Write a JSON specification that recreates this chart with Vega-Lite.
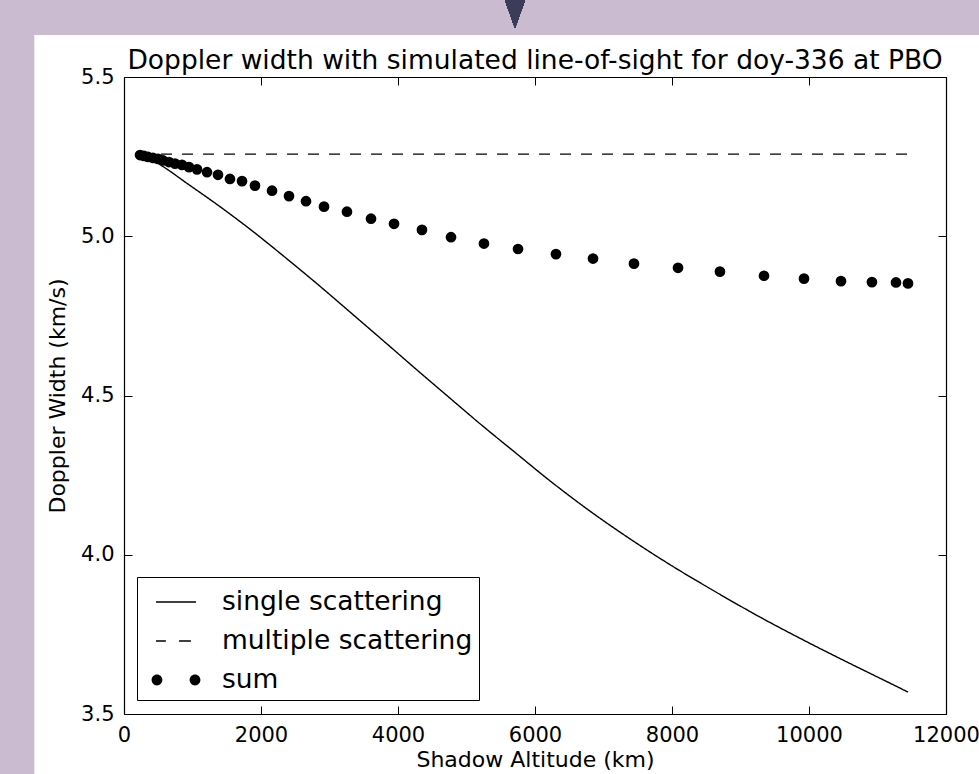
{
  "$schema": "https://vega.github.io/schema/vega-lite/v6.json",
  "width": 822,
  "height": 637,
  "autosize": {"type": "none"},
  "padding": {"left": 124, "top": 77, "right": 33, "bottom": 60},
  "background": "#cabbd1",
  "title": {
    "text": "Doppler width with simulated line-of-sight for doy-336 at PBO",
    "font": "DejaVu Sans",
    "fontSize": 26.5,
    "fontWeight": "normal",
    "color": "black",
    "anchor": "middle",
    "baseline": "alphabetic",
    "offset": -95,
    "zindex": 2
  },
  "config": {
    "view": {"stroke": null},
    "font": "DejaVu Sans",
    "axis": {
      "grid": false,
      "domainColor": "black",
      "domainWidth": 1.2,
      "tickColor": "black",
      "tickSize": -8,
      "tickWidth": 1,
      "labelFont": "DejaVu Sans",
      "labelFontSize": 21,
      "labelColor": "black",
      "labelPadding": 18,
      "titleFont": "DejaVu Sans",
      "titleFontSize": 22,
      "titleFontWeight": "normal",
      "titleColor": "black"
    }
  },
  "datasets": {
    "doppler": [
      {"series": "single scattering", "altitude": 234, "width": 5.255},
      {"series": "single scattering", "altitude": 380, "width": 5.2435},
      {"series": "single scattering", "altitude": 569, "width": 5.219},
      {"series": "single scattering", "altitude": 920, "width": 5.166},
      {"series": "single scattering", "altitude": 1401, "width": 5.093},
      {"series": "single scattering", "altitude": 1883, "width": 5.015},
      {"series": "single scattering", "altitude": 2379, "width": 4.929},
      {"series": "single scattering", "altitude": 2861, "width": 4.843},
      {"series": "single scattering", "altitude": 3343, "width": 4.754},
      {"series": "single scattering", "altitude": 3839, "width": 4.662},
      {"series": "single scattering", "altitude": 4321, "width": 4.572},
      {"series": "single scattering", "altitude": 4686, "width": 4.505},
      {"series": "single scattering", "altitude": 5255, "width": 4.401},
      {"series": "single scattering", "altitude": 5722, "width": 4.319},
      {"series": "single scattering", "altitude": 6190, "width": 4.237},
      {"series": "single scattering", "altitude": 6803, "width": 4.137},
      {"series": "single scattering", "altitude": 7365, "width": 4.053},
      {"series": "single scattering", "altitude": 7985, "width": 3.967},
      {"series": "single scattering", "altitude": 8657, "width": 3.881},
      {"series": "single scattering", "altitude": 9270, "width": 3.806},
      {"series": "single scattering", "altitude": 9839, "width": 3.741},
      {"series": "single scattering", "altitude": 10453, "width": 3.674},
      {"series": "single scattering", "altitude": 10963, "width": 3.620},
      {"series": "single scattering", "altitude": 11445, "width": 3.569},
      {"series": "multiple scattering", "altitude": 234, "width": 5.258},
      {"series": "multiple scattering", "altitude": 11445, "width": 5.258},
      {"series": "sum", "altitude": 234, "width": 5.255},
      {"series": "sum", "altitude": 292, "width": 5.252},
      {"series": "sum", "altitude": 350, "width": 5.249},
      {"series": "sum", "altitude": 423, "width": 5.246},
      {"series": "sum", "altitude": 496, "width": 5.243},
      {"series": "sum", "altitude": 569, "width": 5.238},
      {"series": "sum", "altitude": 657, "width": 5.233},
      {"series": "sum", "altitude": 745, "width": 5.228},
      {"series": "sum", "altitude": 847, "width": 5.224},
      {"series": "sum", "altitude": 949, "width": 5.217},
      {"series": "sum", "altitude": 1066, "width": 5.210},
      {"series": "sum", "altitude": 1212, "width": 5.201},
      {"series": "sum", "altitude": 1372, "width": 5.193},
      {"series": "sum", "altitude": 1547, "width": 5.180},
      {"series": "sum", "altitude": 1723, "width": 5.173},
      {"series": "sum", "altitude": 1912, "width": 5.159},
      {"series": "sum", "altitude": 2161, "width": 5.143},
      {"series": "sum", "altitude": 2409, "width": 5.126},
      {"series": "sum", "altitude": 2657, "width": 5.110},
      {"series": "sum", "altitude": 2920, "width": 5.093},
      {"series": "sum", "altitude": 3255, "width": 5.077},
      {"series": "sum", "altitude": 3606, "width": 5.055},
      {"series": "sum", "altitude": 3942, "width": 5.039},
      {"series": "sum", "altitude": 4350, "width": 5.020},
      {"series": "sum", "altitude": 4774, "width": 4.997},
      {"series": "sum", "altitude": 5255, "width": 4.977},
      {"series": "sum", "altitude": 5752, "width": 4.960},
      {"series": "sum", "altitude": 6306, "width": 4.944},
      {"series": "sum", "altitude": 6847, "width": 4.930},
      {"series": "sum", "altitude": 7445, "width": 4.914},
      {"series": "sum", "altitude": 8088, "width": 4.901},
      {"series": "sum", "altitude": 8700, "width": 4.889},
      {"series": "sum", "altitude": 9343, "width": 4.876},
      {"series": "sum", "altitude": 9927, "width": 4.867},
      {"series": "sum", "altitude": 10467, "width": 4.859},
      {"series": "sum", "altitude": 10919, "width": 4.856},
      {"series": "sum", "altitude": 11270, "width": 4.855},
      {"series": "sum", "altitude": 11445, "width": 4.852}
    ]
  },
  "data": {"name": "doppler"},
  "layer": [
    {
      "mark": {"type": "rect", "color": "white"},
      "encoding": {
        "x": {"datum": -1300, "type": "quantitative", "axis": null, "scale": {"domain": [0, 12000], "nice": false, "zero": false}},
        "x2": {"datum": 14000},
        "y": {"datum": 5.632, "type": "quantitative", "axis": null, "scale": {"domain": [3.5, 5.5], "nice": false, "zero": false}},
        "y2": {"datum": 2.5}
      }
    },
    {
      "mark": {"type": "point", "filled": true, "opacity": 1, "color": "#3b3c57", "size": 400, "shape": "M-1,-1.6L1,-1.6L0,1.2Z"},
      "encoding": {
        "x": {"datum": 5708, "type": "quantitative", "axis": null, "scale": {"domain": [0, 12000], "nice": false, "zero": false}},
        "y": {"datum": 5.6915, "type": "quantitative", "axis": null, "scale": {"domain": [3.5, 5.5], "nice": false, "zero": false}}
      }
    },
    {
      "transform": [{"filter": "datum.series !== 'sum'"}],
      "mark": {"type": "line", "color": "black", "strokeWidth": 1.4, "interpolate": "monotone"},
      "encoding": {
        "x": {
          "field": "altitude", "type": "quantitative",
          "scale": {"domain": [0, 12000], "nice": false, "zero": false},
          "axis": {"title": "Shadow Altitude (km)", "zindex": 1, "values": [0, 2000, 4000, 6000, 8000, 10000, 12000], "format": "d", "labelFlush": false, "labelOverlap": false}
        },
        "y": {
          "field": "width", "type": "quantitative",
          "scale": {"domain": [3.5, 5.5], "nice": false, "zero": false},
          "axis": {"title": "Doppler Width (km/s)", "titlePadding": 11, "zindex": 1, "values": [3.5, 4.0, 4.5, 5.0, 5.5], "format": ".1f", "labelFlush": false, "labelOverlap": false}
        },
        "strokeDash": {
          "field": "series", "type": "nominal",
          "scale": {"domain": ["single scattering", "multiple scattering"], "range": [[1, 0], [11, 10]]},
          "legend": null
        }
      }
    },
    {
      "transform": [{"filter": "datum.series === 'sum'"}],
      "mark": {"type": "point", "filled": true, "opacity": 1, "color": "black", "size": 115},
      "encoding": {
        "x": {
          "field": "altitude", "type": "quantitative",
          "scale": {"domain": [0, 12000], "nice": false, "zero": false},
          "axis": {"orient": "top", "zindex": 1, "title": null, "labels": false, "values": [0, 2000, 4000, 6000, 8000, 10000, 12000]}
        },
        "y": {
          "field": "width", "type": "quantitative",
          "scale": {"domain": [3.5, 5.5], "nice": false, "zero": false},
          "axis": {"orient": "right", "zindex": 1, "title": null, "labels": false, "values": [3.5, 4.0, 4.5, 5.0, 5.5]}
        }
      }
    },
    {
      "transform": [{"filter": "datum.series === 'sum'"}],
      "mark": {"type": "point", "filled": true, "color": "black", "size": 0},
      "encoding": {
        "x": {"field": "altitude", "type": "quantitative", "axis": null, "scale": {"domain": [0, 12000], "nice": false, "zero": false}},
        "y": {"field": "width", "type": "quantitative", "axis": null, "scale": {"domain": [3.5, 5.5], "nice": false, "zero": false}},
        "shape": {
          "field": "series", "type": "nominal",
          "scale": {
            "domain": ["single scattering", "multiple scattering", "sum"],
            "range": [
              "M-1.11,-0.04L1.11,-0.04L1.11,0.04L-1.11,0.04Z",
              "M-1.11,-0.04L-0.56,-0.04L-0.56,0.04L-1.11,0.04ZM0.17,-0.04L0.83,-0.04L0.83,0.04L0.17,0.04Z",
              "M-1.356,0A0.3,0.3 0 1 0 -0.756,0A0.3,0.3 0 1 0 -1.356,0ZM0.756,0A0.3,0.3 0 1 0 1.356,0A0.3,0.3 0 1 0 0.756,0Z"
            ]
          },
          "legend": {
            "title": null,
            "orient": "none",
            "legendX": 13,
            "legendY": 500,
            "strokeColor": "black",
            "fillColor": "white",
            "padding": 6,
            "symbolSize": 1296,
            "symbolOffset": 14,
            "symbolFillColor": "black",
            "symbolOpacity": 1,
            "labelOffset": 27,
            "labelLimit": 500,
            "labelFont": "DejaVu Sans",
            "labelFontSize": 26.5,
            "labelColor": "black",
            "rowPadding": 6,
            "zindex": 2
          }
        }
      }
    }
  ],
  "resolve": {"axis": {"x": "independent", "y": "independent"}}
}
